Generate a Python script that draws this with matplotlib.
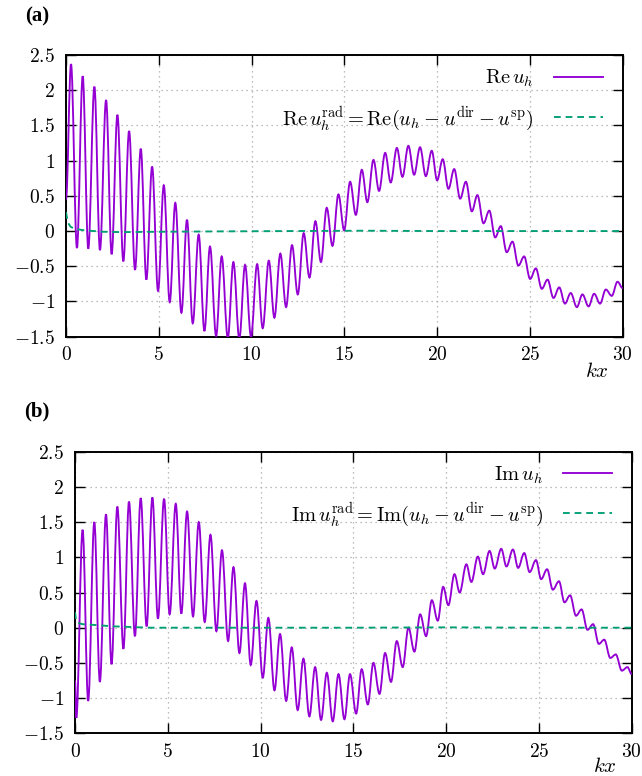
import matplotlib
matplotlib.use("Agg")
import matplotlib.pyplot as plt
from matplotlib.patches import Rectangle, PathPatch
from matplotlib.path import Path

plt.rcParams['mathtext.fontset'] = 'cm'
plt.rcParams['font.family'] = ['DejaVu Serif']

# ---------------- data ----------------
# Panel (a): Re u_h  (local extrema, in order)
re_x = [0.0, 0.27, 0.59, 0.90, 1.20, 1.53, 1.83, 2.16, 2.46, 2.77, 3.09, 3.40, 3.72,
        4.03, 4.33, 4.64, 4.96, 5.27, 5.59, 5.89, 6.22, 6.52, 6.83, 7.15, 7.46,
        7.76, 8.09, 8.39, 8.72, 9.02, 9.34, 9.65, 9.97, 10.30, 10.60, 10.93, 11.23,
        11.55, 11.86, 12.18, 12.49, 12.81, 13.12, 13.44, 13.74, 14.05, 14.36, 14.68,
        14.99, 15.31, 15.62, 15.94, 16.24, 16.57, 16.87, 17.20, 17.50, 17.83, 18.13,
        18.45, 18.76, 19.08, 19.39, 19.71, 20.00, 20.30, 20.61, 20.92, 21.24, 21.55,
        21.87, 22.17, 22.50, 22.81, 23.13, 23.43, 23.75, 24.06, 24.38, 24.69, 25.01,
        25.32, 25.64, 25.95, 26.27, 26.58, 26.89, 27.20, 27.53, 27.83, 28.16, 28.46,
        28.78, 29.09, 29.41, 29.72, 30.0]
re_y = [0.45, 2.37, -0.24, 2.20, -0.25, 2.05, -0.27, 1.86, -0.33, 1.65, -0.43, 1.42, -0.55,
        1.17, -0.69, 0.915, -0.85, 0.65, -1.01, 0.40, -1.16, 0.16, -1.31, -0.05, -1.42,
        -0.22, -1.49, -0.36, -1.52, -0.44, -1.53, -0.48, -1.50, -0.47, -1.38, -0.42, -1.23,
        -0.32, -1.08, -0.20, -0.90, -0.03, -0.66, 0.14, -0.44, 0.33, -0.21, 0.52,
        0.01, 0.70, 0.23, 0.87, 0.41, 1.01, 0.57, 1.11, 0.69, 1.18, 0.77,
        1.21, 0.80, 1.19, 0.78, 1.14, 0.72, 1.02, 0.60, 0.88, 0.46, 0.70,
        0.28, 0.51, 0.11, 0.29, -0.09, 0.07, -0.30, -0.15, -0.49, -0.36, -0.68,
        -0.53, -0.82, -0.69, -0.95, -0.80, -1.03, -0.88, -1.08, -0.90, -1.07, -0.89,
        -1.03, -0.83, -0.92, -0.72, -0.81]
# Panel (a): Re u_h^rad
rerad_x = [0.0, 0.1, 0.25, 0.5, 1.0, 2.0, 3.0, 5.0, 8.0, 12.0, 16.0, 20.0, 24.0, 28.0, 30.0]
rerad_y = [0.27, 0.12, 0.06, 0.03, 0.01, -0.01, -0.015, -0.01, -0.005, 0.0, 0.005, 0.0, 0.0, 0.0, 0.0]

# Panel (b): Im u_h  (local extrema, in order)
im_x = [0.0, 0.07, 0.41, 0.71, 1.04, 1.34, 1.67, 1.97, 2.28, 2.61, 2.91, 3.23, 3.54,
        3.86, 4.17, 4.47, 4.80, 5.10, 5.43, 5.73, 6.04, 6.36, 6.67, 6.99, 7.30, 7.62,
        7.92, 8.25, 8.54, 8.86, 9.16, 9.47, 9.78, 10.12, 10.42, 10.75, 11.05, 11.38,
        11.68, 12.00, 12.31, 12.63, 12.94, 13.26, 13.57, 13.89, 14.20, 14.52, 14.82,
        15.15, 15.45, 15.78, 16.08, 16.41, 16.71, 17.03, 17.34, 17.66, 17.97, 18.29,
        18.60, 18.92, 19.23, 19.55, 19.84, 20.12, 20.45, 20.73, 21.09, 21.36, 21.71,
        21.99, 22.34, 22.62, 22.97, 23.25, 23.60, 23.88, 24.21, 24.50, 24.84, 25.12,
        25.44, 25.75, 26.08, 26.38, 26.68, 27.00, 27.30, 27.62, 27.92, 28.23, 28.52,
        28.85, 29.14, 29.47, 29.77, 30.0]
im_y = [-0.75, -1.28, 1.39, -1.04, 1.50, -0.77, 1.61, -0.52, 1.72, -0.30, 1.79, -0.12, 1.84,
        0.02, 1.85, 0.13, 1.83, 0.19, 1.76, 0.20, 1.65, 0.16, 1.50, 0.08, 1.32, -0.05,
        1.10, -0.19, 0.86, -0.36, 0.63, -0.53, 0.38, -0.71, 0.14, -0.89, -0.09, -1.04,
        -0.28, -1.17, -0.44, -1.26, -0.56, -1.31, -0.64, -1.33, -0.66, -1.30, -0.66,
        -1.22, -0.59, -1.09, -0.50, -0.94, -0.36, -0.77, -0.19, -0.56, 0.00, -0.34,
        0.19, -0.12, 0.39, 0.10, 0.58, 0.32, 0.76, 0.50, 0.90, 0.65, 1.01,
        0.76, 1.09, 0.84, 1.12, 0.87, 1.11, 0.85, 1.06, 0.79, 0.96, 0.69,
        0.83, 0.54, 0.66, 0.36, 0.46, 0.17, 0.26, -0.03, 0.05, -0.23, -0.17,
        -0.43, -0.38, -0.61, -0.56, -0.66]
# Panel (b): Im u_h^rad
imrad_x = [0.0, 0.05, 0.15, 0.4, 1.0, 2.0, 3.0, 4.0, 6.0, 10.0, 15.0, 20.0, 25.0, 30.0]
imrad_y = [0.22, 0.12, 0.07, 0.05, 0.04, 0.02, 0.01, 0.0, 0.0, 0.0, 0.0, 0.005, 0.0, 0.0]

xticks = [0, 5, 10, 15, 20, 25, 30]
yticks = [-1.5, -1, -0.5, 0, 0.5, 1, 1.5, 2, 2.5]
panel_labels = ['(a)', '(b)']
legend_a = [r'$\mathrm{Re}\,u_h$',
            r'$\mathrm{Re}\,u_h^{\mathrm{rad}} = \mathrm{Re}(u_h - u^{\mathrm{dir}} - u^{\mathrm{sp}})$']
legend_b = [r'$\mathrm{Im}\,u_h$',
            r'$\mathrm{Im}\,u_h^{\mathrm{rad}} = \mathrm{Im}(u_h - u^{\mathrm{dir}} - u^{\mathrm{sp}})$']

PURPLE = '#9400d3'
GREEN = '#009e73'

W, H = 642, 776
fig = plt.figure(figsize=(W / 100, H / 100), dpi=100)


def make_axes(left_px, top_px, right_px, bottom_px):
    return fig.add_axes([left_px / W, 1 - bottom_px / H,
                         (right_px - left_px) / W, (bottom_px - top_px) / H])


def smooth_path(xs, ys, c=0.364):
    """Smooth curve through the extrema: cubic segments with flat tangents at each point."""
    verts = [(xs[0], ys[0])]
    codes = [Path.MOVETO]
    for i in range(len(xs) - 1):
        x0, y0, x1, y1 = xs[i], ys[i], xs[i + 1], ys[i + 1]
        dx = x1 - x0
        verts += [(x0 + c * dx, y0), (x1 - c * dx, y1), (x1, y1)]
        codes += [Path.CURVE4] * 3
    return Path(verts, codes)


def style(ax, xs, ys, xr, yr, labels, kx_pos):
    ax.add_patch(PathPatch(smooth_path(xs, ys), facecolor='none', edgecolor=PURPLE,
                           lw=1.35, zorder=3))
    ax.plot([], [], color=PURPLE, lw=1.35, label=labels[0])
    ax.plot(xr, yr, color=GREEN, lw=1.35, ls=(0, (3.6, 2.6)), label=labels[1], zorder=3)
    ax.set_xlim(0, 30)
    ax.set_ylim(-1.5, 2.5)
    ax.set_xticks(xticks)
    ax.set_xticklabels([f'${v:g}$' for v in xticks], fontsize=14)
    ax.set_yticks(yticks)
    ax.set_yticklabels([f'${v:g}$' for v in yticks], fontsize=14)
    ax.tick_params(direction='in', length=7, width=1.0, top=True, right=True, pad=8)
    ax.tick_params(axis='x', pad=7)
    ax.grid(True, ls=(0, (1, 3)), color='#a8a8a8', lw=0.9)
    for s in ax.spines.values():
        s.set_linewidth(1.4)
    # key background hiding the grid under the first key line
    ax.add_patch(Rectangle((0.431, 0.862), 0.569, 0.138, transform=ax.transAxes,
                           facecolor='white', edgecolor='none', zorder=1.5))
    ax.legend(loc='upper right', bbox_to_anchor=(0.991, 1.005), markerfirst=False,
              frameon=False, fontsize=14.7, handlelength=2.4, handletextpad=1.0,
              labelspacing=0.7, borderpad=0.2)
    ax.text(kx_pos[0], kx_pos[1], r'$kx$', transform=ax.transAxes, fontsize=15,
            ha='center', va='center')


ax1 = make_axes(66, 55, 622.7, 336.7)
style(ax1, re_x, re_y, rerad_x, rerad_y, legend_a, (0.954, -0.122))
ax2 = make_axes(75, 451.7, 631.7, 733.3)
style(ax2, im_x, im_y, imrad_x, imrad_y, legend_b, (0.951, -0.117))

fig.text(37 / W, 1 - 16 / H, panel_labels[0], fontsize=15, fontweight='bold',
         family='Liberation Serif', ha='center', va='center')
fig.text(37 / W, 1 - 411 / H, panel_labels[1], fontsize=15, fontweight='bold',
         family='Liberation Serif', ha='center', va='center')

fig.savefig('out.png', dpi=100)
